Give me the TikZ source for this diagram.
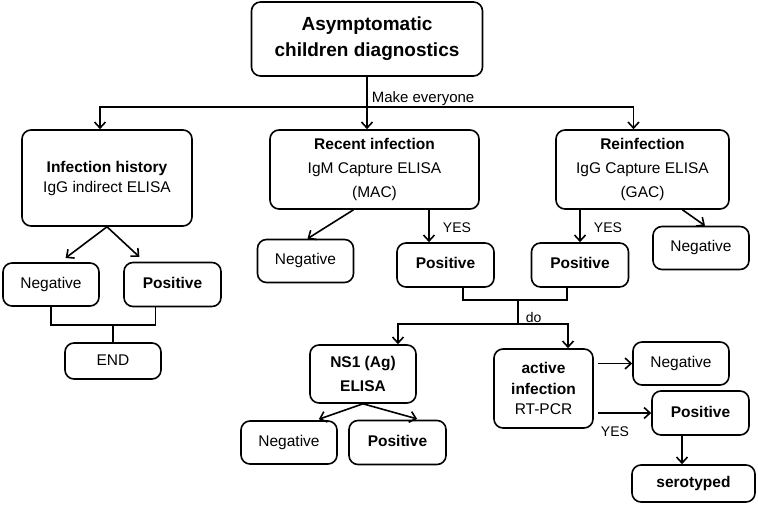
\documentclass[tikz,border=0pt]{standalone}
\usepackage{fontspec}
\setmainfont{Liberation Sans}
\usetikzlibrary{arrows.meta}

\begin{document}
\begin{tikzpicture}[x=1pt,y=-1pt,line width=1.6pt,>={Straight Barb[length=6pt,width=11pt]},
    box/.style={draw,rounded corners=9pt,align=center,inner sep=0pt,font=\fontsize{15.5}{20}\selectfont},
    onebox/.style={box,text height=11pt,text depth=3pt},
    lbl/.style={font=\fontsize{14}{16}\selectfont,inner sep=1pt}]
    \useasboundingbox (0,0) rectangle (758,505);
    \node[box,minimum width=231pt,minimum height=74pt,font=\fontsize{19}{26}\selectfont\bfseries] (top) at (367,39) {Asymptomatic\\children diagnostics};
    \node[box,minimum width=170pt,minimum height=96pt] (hist) at (107,178) {\textbf{Infection history}\\IgG indirect ELISA};
    \node[box,minimum width=209pt,minimum height=79pt,font=\fontsize{15.5}{24}\selectfont] (recent) at (374.5,169.5) {\textbf{Recent infection}\\IgM Capture ELISA\\(MAC)};
    \node[box,minimum width=173pt,minimum height=79pt,font=\fontsize{15.5}{24}\selectfont] (reinf) at (642.5,169.5) {\textbf{Reinfection}\\IgG Capture ELISA\\(GAC)};
    \foreach \n/\x/\y in {histneg/51/284.5,recneg/305.5/261,reineg/701/248,ns1neg/289/442.5,actneg/681/363.5}
        \node[onebox,minimum width=96pt,minimum height=43pt] (\n) at (\x,\y) {Negative};
    \foreach \n/\x/\y in {histpos/172.5/284.5,recpos/445.5/265,reipos/580/265,ns1pos/397.5/442.5,actpos/700.5/413}
        \node[onebox,minimum width=97pt,minimum height=44pt] (\n) at (\x,\y) {\textbf{Positive}};
    \node[onebox,minimum width=96pt,minimum height=36pt] (end) at (113,361) {END};
    \node[box,minimum width=106pt,minimum height=58pt,font=\fontsize{15.5}{24}\selectfont\bfseries] (ns1) at (363,374) {NS1 (Ag)\\ELISA};
    \node[box,minimum width=99pt,minimum height=79pt,font=\fontsize{15.5}{20.5}\selectfont] (active) at (543.5,388.5) {\textbf{active}\\\textbf{infection}\\RT-PCR};
    \node[onebox,minimum width=123pt,minimum height=37pt] (sero) at (693.5,483.5) {\textbf{serotyped}};

    \coordinate (split) at (367,107);
    \draw[->] (top.south) -- (top.south |- recent.north);
    \draw[->] (split) -| ([xshift=-7pt]hist.north);
    \draw[->] (split) -| ([xshift=-9pt]reinf.north);
    \node[lbl,anchor=south west,font=\fontsize{15}{16}\selectfont] (make) at ([xshift=3pt]split) {Make everyone};

    \draw[->,shorten >=7pt] (hist.south) -- ([xshift=9pt]histneg.north);
    \draw[->,shorten >=7pt] (hist.south) -- ([xshift=-28pt]histpos.north);
    \coordinate (join1) at (113,325);
    \draw (histneg.south) |- (join1) -| ([xshift=-17pt]histpos.south);
    \draw (join1) -- (end);

    \draw[->] ([xshift=-21pt]recent.south) -- ([xshift=2pt]recneg.north);
    \draw[->] ([xshift=-16.5pt]recpos.north |- recent.south) -- ([xshift=-16.5pt]recpos.north);
    \node[lbl] (yes1) at (457,228) {YES};
    \draw[->] (reipos.north |- reinf.south) -- (reipos.north);
    \node[lbl] (yes2) at (608,228) {YES};
    \draw[->] ([xshift=40pt]reinf.south) -- ([xshift=4pt]reineg.north);

    \coordinate (join2) at (518,300);
    \coordinate (split2) at (518,324);
    \draw ([xshift=17.5pt]recpos.south) |- (join2) -| ([xshift=-13pt]reipos.south);
    \draw (join2) -- (split2);
    \draw[->] (split2) -| ([xshift=35pt]ns1.north);
    \draw[->] (split2) -| ([xshift=24.5pt]active.north);
    \node[lbl,anchor=south west] (do) at ([xshift=6pt]split2) {do};

    \draw[->,shorten >=3pt] (ns1.south) -- ([xshift=27pt]ns1neg.north);
    \draw[->,shorten >=3pt] (ns1.south) -- ([xshift=22.5pt]ns1pos.north);
    \draw[->,shorten <=4pt] (active.east |- actneg) -- (actneg);
    \draw[->,shorten <=4pt] (active.east |- actpos) -- (actpos);
    \node[lbl] (yes3) at (615,432) {YES};
    \draw[->] ([xshift=-18.5pt]actpos.south) -- ([xshift=-18.5pt]actpos.south |- sero.north);
\end{tikzpicture}
\end{document}
